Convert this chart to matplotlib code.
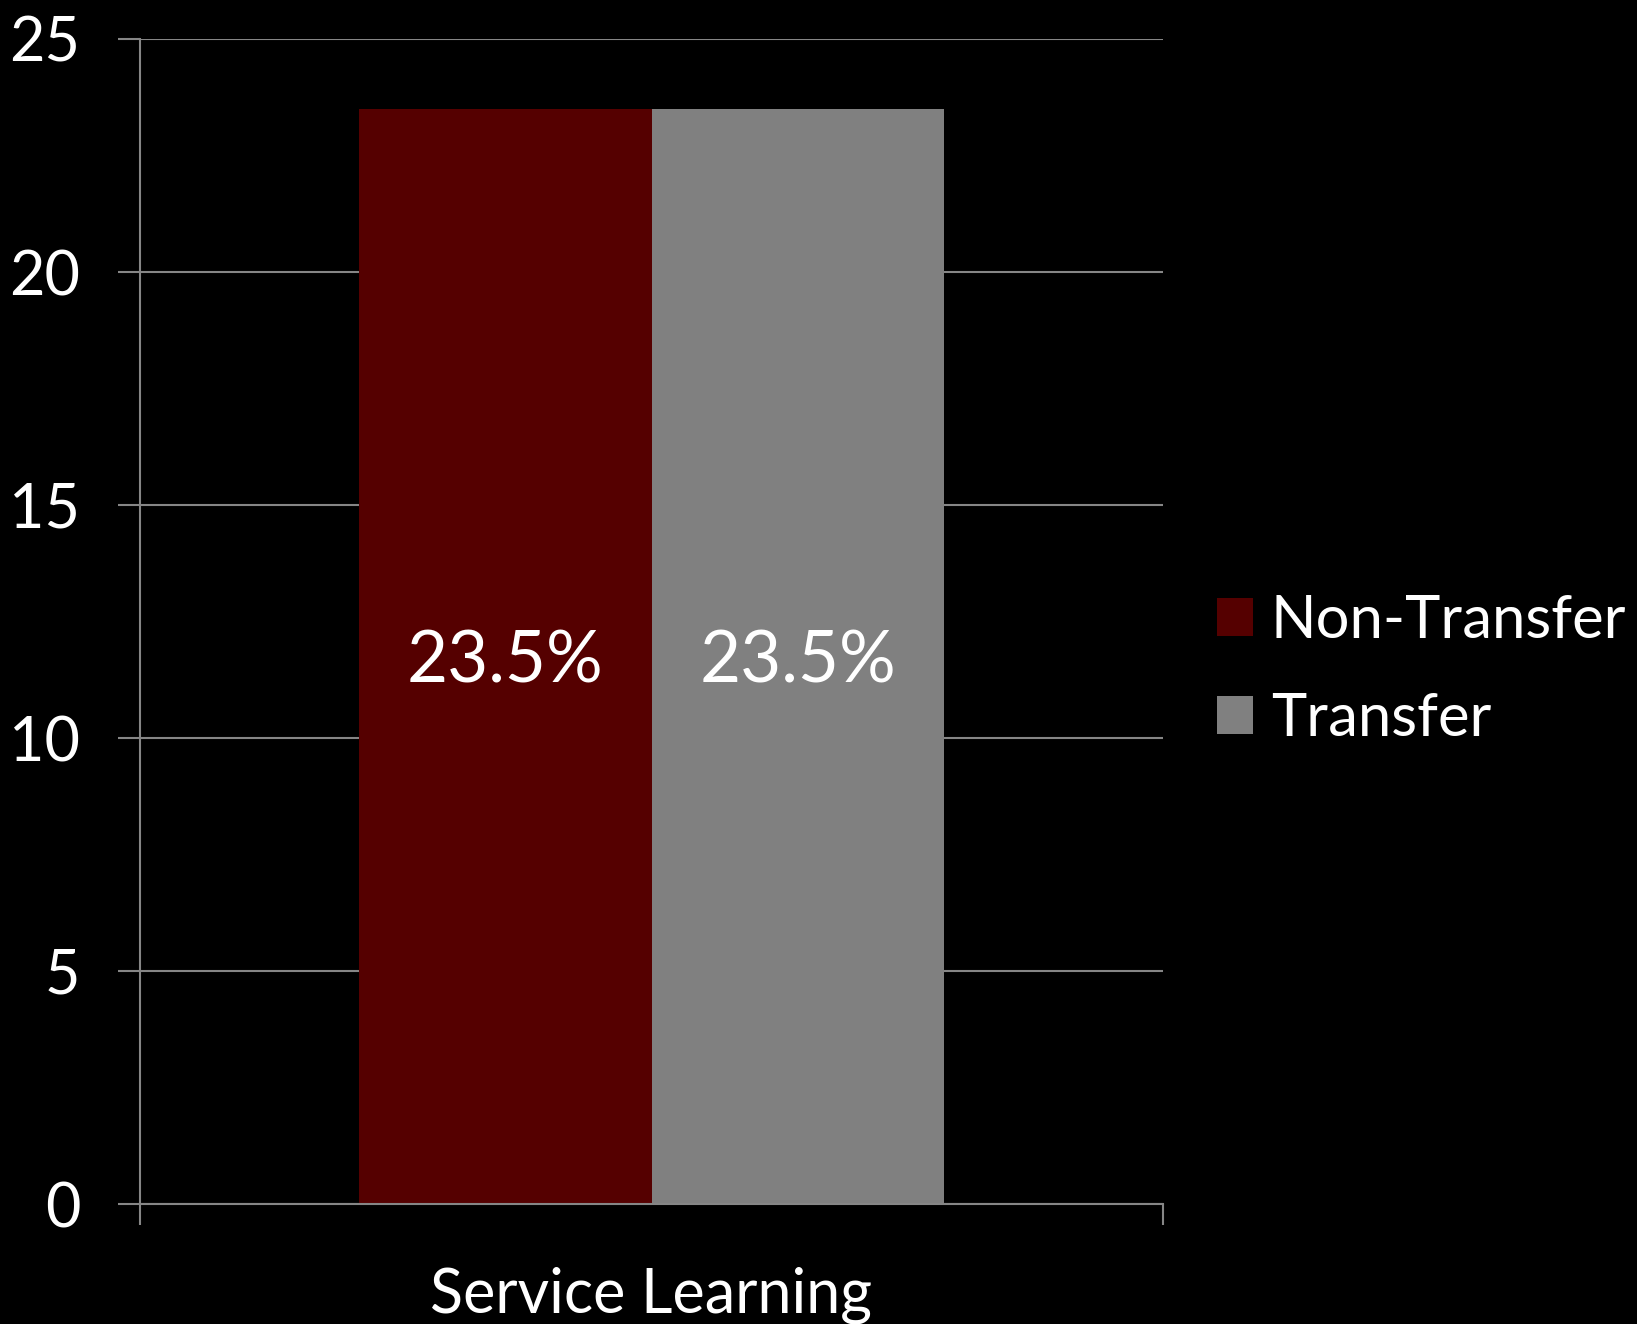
import numpy as np
import matplotlib
matplotlib.use("Agg")
from matplotlib import pyplot as plt

category = "Service Learning"
series = ["Non-Transfer", "Transfer"]
values = [23.5, 23.5]
colors = ["#550000", "#808080"]
yticks = [0, 5, 10, 15, 20, 25]

plt.rcParams['font.family'] = ['Lato', 'DejaVu Sans']
grid_c = "#868686"

fig = plt.figure(figsize=(16.37, 13.24), dpi=100, facecolor="black")
ax = fig.add_axes([140/1637, 120/1324, 1023/1637, 1165/1324], facecolor="black")

w = 0.286
offsets = [-w/2, w/2]
for name, v, c, off in zip(series, values, colors, offsets):
    bars = ax.bar(off, v, width=w, color=c, label=name, zorder=2)
    ax.bar_label(bars, labels=["%.1f%%" % v], label_type="center",
                 color="white", fontsize=51, padding=-4)

ax.set_xlim(-0.5, 0.5)
ax.set_ylim(0, 25)
ax.set_yticks(yticks)
ax.yaxis.grid(True, color=grid_c, linewidth=1.5, zorder=0)
ax.set_axisbelow(True)

# tick marks on category edges, label in the middle
ax.set_xticks([-0.5, 0.5])
ax.set_xticklabels(["", ""])
ax.set_xticks([0], minor=True)
ax.set_xticklabels([category], minor=True)
ax.tick_params(axis="x", which="major", length=15, width=1.5, color=grid_c)
ax.tick_params(axis="x", which="minor", length=0, pad=45, labelsize=44, labelcolor="white")
ax.tick_params(axis="y", length=16, width=1.5, color=grid_c, pad=27,
               labelsize=44, labelcolor="white")

for s in ["top", "right"]:
    ax.spines[s].set_visible(False)
for s in ["left", "bottom"]:
    ax.spines[s].set_color(grid_c)
    ax.spines[s].set_linewidth(1.5)

ax.legend(loc="center left", bbox_to_anchor=(1217/1637, 1 - 670/1324),
          bbox_transform=fig.transFigure, frameon=False, fontsize=43,
          labelcolor="white", handlelength=0.6, handleheight=0.6,
          handletextpad=0.3, labelspacing=0.75, borderaxespad=0, borderpad=0)

fig.savefig("out.png", dpi=100, facecolor="black")
